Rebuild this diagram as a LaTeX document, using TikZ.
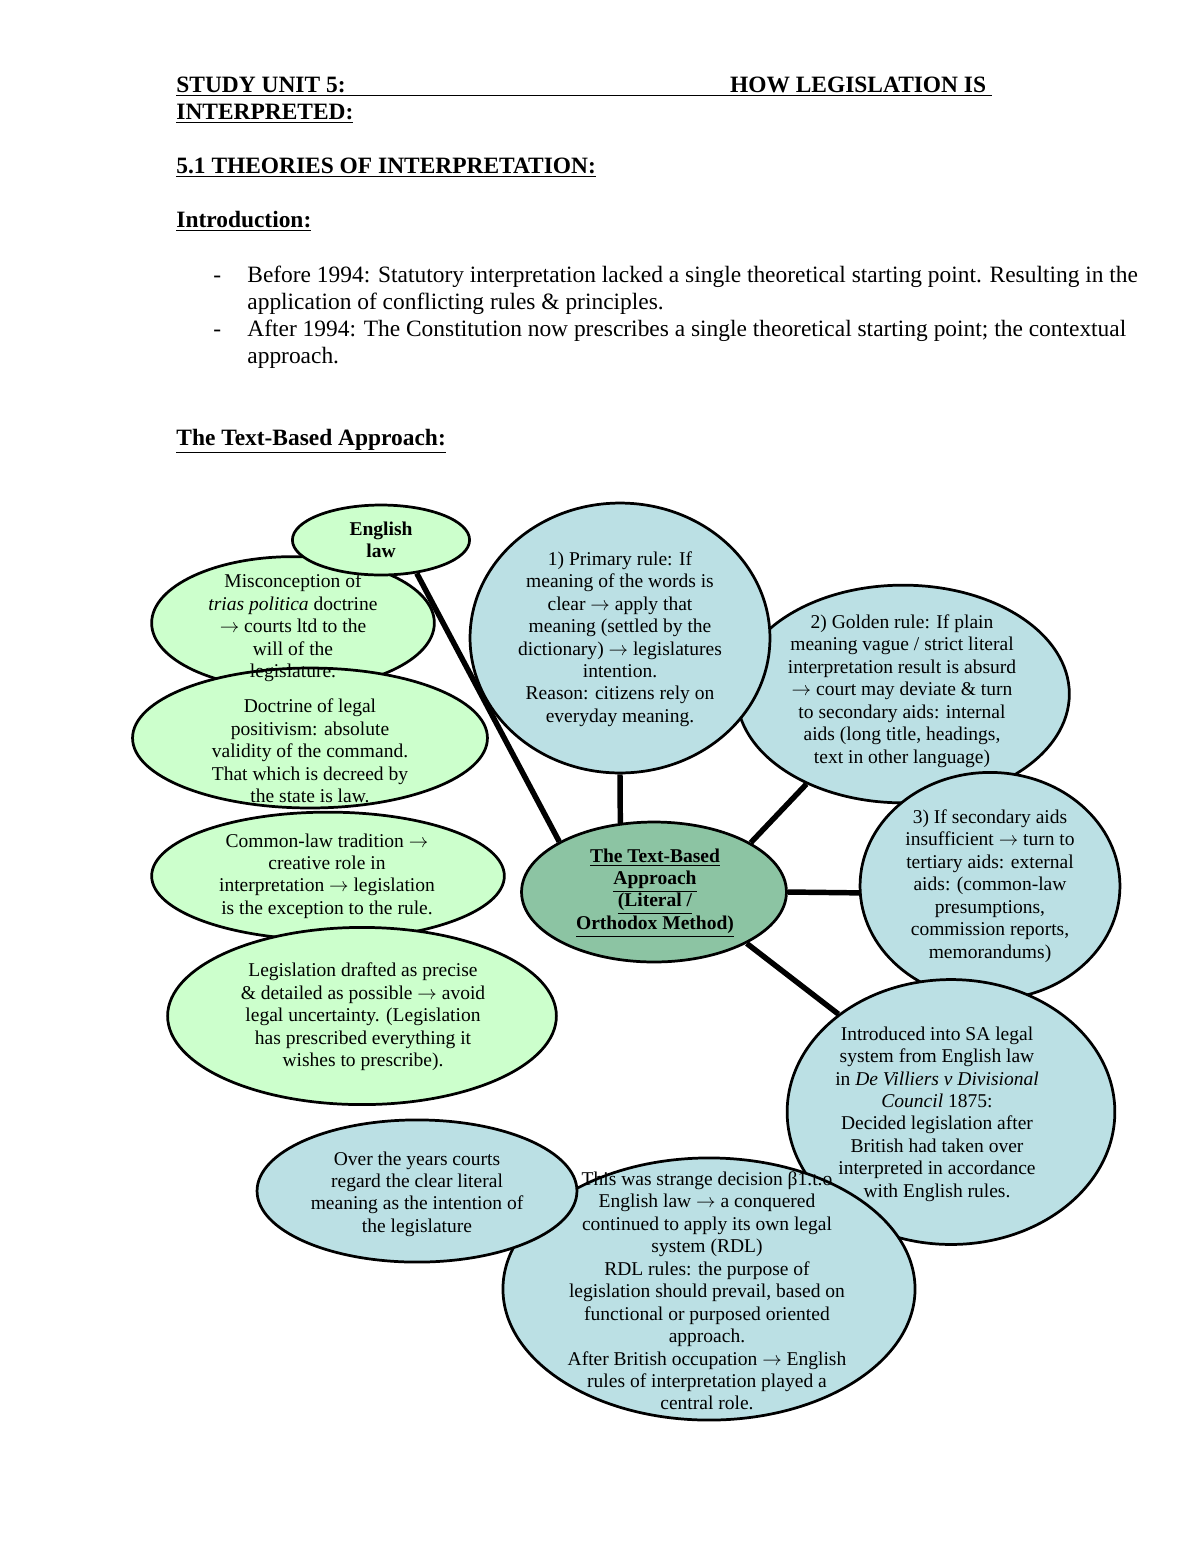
\documentclass[tikz,border=0pt]{standalone}
\usepackage{fontspec}
\setmainfont{Liberation Serif}
\usetikzlibrary{shapes.geometric}
\definecolor{lgreen}{RGB}{204,255,204}
\definecolor{lblue}{RGB}{187,224,228}
\definecolor{mgreen}{RGB}{140,196,163}
\newcommand{\tto}{$\rightarrow$}

\begin{document}
\begin{tikzpicture}[x=0.018cm, y=-0.018cm,
  bub/.style={draw, ellipse, line width=1.4pt, inner sep=0pt},
  grn/.style={bub, fill=lgreen},
  blu/.style={bub, fill=lblue},
  txt/.style={align=center, inner sep=0pt, font=\fontsize{10}{11.5}\selectfont},
  head/.style={anchor=base west, inner sep=0pt, align=left, font=\fontsize{12}{13.8}\selectfont},
  link/.style={line width=2.8pt}]
\useasboundingbox (0,0) rectangle (1200,1553);

% page heading (base = last line)
\node[head, font=\fontsize{12}{13.8}\selectfont\bfseries] (unit) at (176,119)
  {\underline{\makebox[9.97cm][l]{STUDY UNIT 5:}HOW LEGISLATION IS\ }\\ \underline{INTERPRETED:}};
\node[head, font=\fontsize{12}{13.8}\selectfont\bfseries] (theo) at (176,173) {\underline{5.1 THEORIES OF INTERPRETATION:}};
\node[head, font=\fontsize{12}{13.8}\selectfont\bfseries] (intr) at (176,227) {\underline{Introduction:}};
\node[head] (dash1) at (213,282) {-};
\node[head] (bef) at (247,309) {Before 1994: Statutory interpretation lacked a single theoretical starting point. Resulting in the\\ application of conflicting rules \& principles.};
\node[head] (dash2) at (213,336) {-};
\node[head] (aft) at (247,363) {After 1994: The Constitution now prescribes a single theoretical starting point; the contextual\\ approach.};
\node[head, font=\fontsize{12}{13.8}\selectfont\bfseries] (tba) at (176,445) {\underline{The Text-Based Approach:}};

% left bubbles
\node[grn, minimum width=5.09cm, minimum height=2.39cm] (misc) at (293,623) {};
\node[grn, minimum width=6.39cm, minimum height=2.52cm] (posit) at (310,738) {};
\node[grn, minimum width=6.35cm, minimum height=2.30cm] (comm) at (328,876) {};
\node[grn, minimum width=7.00cm, minimum height=3.19cm] (draft) at (362,1016) {};
\node[grn, minimum width=3.19cm, minimum height=1.26cm] (eng) at (381,540) {};

% right bubbles
\node[blu, minimum width=5.99cm, minimum height=3.92cm] (gold) at (903,694) {};
\node[blu, minimum width=5.40cm, minimum height=4.86cm] (prim) at (620,638) {};
\node[blu, minimum width=4.68cm, minimum height=4.09cm] (tert) at (990,886) {};
\node[blu, minimum width=5.90cm, minimum height=4.77cm] (intro) at (951,1112) {};
\node[blu, minimum width=7.42cm, minimum height=4.72cm] (rdl) at (709,1289) {};
\node[blu, minimum width=5.76cm, minimum height=2.56cm] (years) at (417,1191) {};
\node[bub, fill=mgreen, minimum width=4.77cm, minimum height=2.52cm] (cen) at (654,892) {};

% texts
\node[txt, font=\fontsize{10}{11.5}\selectfont\bfseries] (eng-t) at (381,540) {English\\ law};
\node[txt] (misc-t) at (293,628) {Misconception of\\ \textit{trias politica} doctrine\\ \tto{} courts ltd to the\\ will of the\\ legislature.};
\node[txt] (posit-t) at (310,751) {Doctrine of legal\\ positivism: absolute\\ validity of the command.\\ That which is decreed by\\ the state is law.};
\node[txt] (comm-t) at (327,876) {Common-law tradition \tto\\ creative role in\\ interpretation \tto{} legislation\\ is the exception to the rule.};
\node[txt] (draft-t) at (363,1017) {Legislation drafted as precise\\ \& detailed as possible \tto{} avoid\\ legal uncertainty. (Legislation\\ has prescribed everything it\\ wishes to prescribe).};
\node[txt] (prim-t) at (620,639) {1) Primary rule: If\\ meaning of the words is\\ clear \tto{} apply that\\ meaning (settled by the\\ dictionary) \tto{} legislatures\\ intention.\\ Reason: citizens rely on\\ everyday meaning.};
\node[txt] (gold-t) at (902,691) {2) Golden rule: If plain\\ meaning vague / strict literal\\ interpretation result is absurd\\ \tto{} court may deviate \& turn\\ to secondary aids: internal\\ aids (long title, headings,\\ text in other language)};
\node[txt] (tert-t) at (990,886) {3) If secondary aids\\ insufficient \tto{} turn to\\ tertiary aids: external\\ aids: (common-law\\ presumptions,\\ commission reports,\\ memorandums)};
\node[txt] (intro-t) at (937,1114) {Introduced into SA legal\\ system from English law\\ in \textit{De Villiers v Divisional}\\ \textit{Council} 1875:\\ Decided legislation after\\ British had taken over\\ interpreted in accordance\\ with English rules.};
\node[txt] (rdl-t) at (707,1291) {This was strange decision β1.t.o\\ English law \tto{} a conquered\\ continued to apply its own legal\\ system (RDL)\\ RDL rules: the purpose of\\ legislation should prevail, based on\\ functional or purposed oriented\\ approach.\\ After British occupation \tto{} English\\ rules of interpretation played a\\ central role.};
\node[txt] (years-t) at (417,1194) {Over the years courts\\ regard the clear literal\\ meaning as the intention of\\ the legislature};
\node[txt, font=\fontsize{10}{11.5}\selectfont\bfseries] (cen-t) at (655,893) {\underline{The Text-Based}\\ \underline{Approach}\\ \underline{(Literal /}\\ \underline{Orthodox Method)}};

% connectors
\draw[link] (eng.-43) -- (cen.152);
\draw[link] (prim.south) -- (cen.116);
\draw[link] (gold.-137) -- (cen.27);
\draw[link] (cen.east) -- (tert.183);
\draw[link] (cen.-29) -- (intro.139);

\end{tikzpicture}
\end{document}
